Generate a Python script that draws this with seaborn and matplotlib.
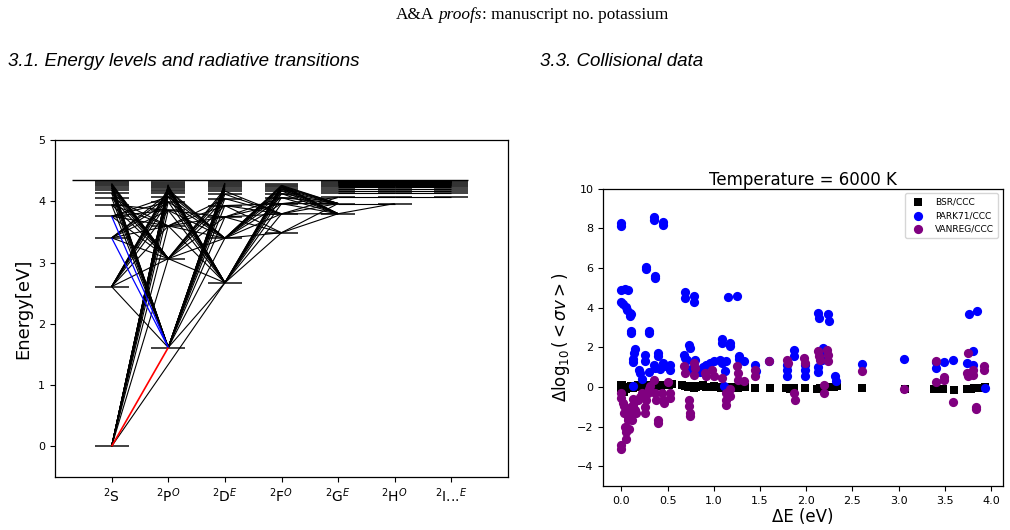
import matplotlib
matplotlib.use("Agg")
import matplotlib.pyplot as plt
from matplotlib.collections import LineCollection
import pandas as pd
import seaborn as sns

# ---------------- left panel: Grotrian diagram of K I ----------------
term_labels = ["$^2$S", "$^2$P$^O$", "$^2$D$^E$", "$^2$F$^O$", "$^2$G$^E$", "$^2$H$^O$", "$^2$I...$^E$"]
ion_limit = 4.341

S_levels = [0.000, 2.607, 3.403, 3.755, 3.944, 4.058, 4.132, 4.182, 4.217, 4.243,
            4.262, 4.277, 4.289, 4.298, 4.306, 4.312, 4.318, 4.322, 4.326]
P_levels = [1.613, 3.064, 3.598, 3.853, 3.991, 4.074, 4.128, 4.165, 4.192, 4.212, 4.227,
            4.240, 4.250, 4.259, 4.266, 4.272, 4.277, 4.282, 4.290, 4.298, 4.306, 4.313]
D_levels = [2.670, 3.397, 3.743, 3.930, 4.043, 4.116, 4.166, 4.201, 4.227, 4.247,
            4.262, 4.274, 4.284, 4.292, 4.299, 4.305, 4.310, 4.315, 4.320]
F_levels = [3.487, 3.795, 3.961, 4.061, 4.126, 4.171, 4.203, 4.227, 4.246, 4.260, 4.272, 4.281]
G_levels = [3.797, 3.963, 4.063, 4.128, 4.173, 4.205, 4.229, 4.247, 4.261, 4.273, 4.282, 4.290,
            4.297, 4.302, 4.307, 4.311, 4.315, 4.318, 4.321, 4.324, 4.326, 4.328, 4.330]
H_levels = [3.963, 4.063, 4.128, 4.173, 4.205, 4.229, 4.247, 4.261, 4.273, 4.282, 4.290,
            4.297, 4.302, 4.307, 4.311, 4.315, 4.318, 4.321, 4.324, 4.326, 4.328, 4.330]
I_levels = [4.063, 4.128, 4.173, 4.205, 4.229, 4.247, 4.261, 4.273, 4.282, 4.290,
            4.297, 4.302, 4.307, 4.311, 4.315, 4.318, 4.321, 4.324, 4.326, 4.328, 4.330]
all_levels = [S_levels, P_levels, D_levels, F_levels, G_levels, H_levels, I_levels]

# radiative transitions: (level index in lower column, level index in upper column)
sp_lines = [(0, 1), (0, 2), (0, 3), (0, 4), (0, 5), (0, 6), (0, 7), (0, 8), (0, 9), (0, 10),
            (0, 11), (0, 12), (0, 13), (0, 14), (0, 15),
            (1, 0), (1, 1), (1, 2), (1, 3), (1, 4), (1, 5), (1, 6), (1, 7), (1, 8), (1, 9),
            (2, 1), (2, 2), (2, 3), (2, 4), (2, 5), (2, 6),
            (3, 1), (3, 2), (3, 3), (3, 4), (3, 5),
            (4, 0), (4, 1), (4, 2), (4, 3), (5, 0), (5, 1), (5, 2), (6, 0), (6, 1),
            (7, 0), (7, 1), (8, 0), (8, 1), (9, 0), (9, 1), (10, 0), (10, 1),
            (11, 0), (11, 1), (12, 0), (12, 1)]
sp_red = [(0, 0)]
sp_blue = [(2, 0), (3, 0)]
sd_lines = [(0, 0)]
pd_lines = [(0, 0), (0, 1), (0, 2), (0, 3), (0, 4), (0, 5), (0, 6), (0, 7), (0, 8), (0, 9),
            (0, 10), (0, 11), (0, 12), (0, 13), (0, 14),
            (1, 0), (1, 1), (1, 2), (1, 3), (1, 4), (1, 5), (1, 6), (1, 7),
            (2, 0), (2, 1), (2, 2), (2, 3), (2, 4), (3, 0), (3, 1), (3, 2),
            (4, 0), (4, 1), (5, 0), (5, 1), (6, 0), (6, 1), (7, 0), (7, 1), (8, 0), (8, 1),
            (9, 0), (10, 0), (11, 0), (12, 0)]
df_lines = [(0, 0), (0, 1), (0, 2), (0, 3), (0, 4), (0, 5), (0, 6), (0, 7), (0, 8), (0, 9),
            (1, 0), (1, 1), (1, 2), (1, 3), (1, 4), (1, 5), (1, 6), (1, 7), (1, 8), (1, 9),
            (2, 0), (2, 1), (2, 2), (2, 3), (3, 0), (3, 1), (3, 2), (4, 1), (5, 1), (6, 1)]
fg_lines = [(0, 0), (0, 1), (1, 0), (1, 1), (1, 2), (2, 0), (2, 1), (2, 2), (3, 0), (3, 1),
            (4, 0), (4, 1), (5, 0), (5, 1), (6, 0), (6, 1), (7, 0), (7, 1), (8, 0), (8, 1),
            (9, 0), (9, 1)]
gh_lines = [(0, 0), (1, 0), (2, 1), (3, 2), (4, 3), (5, 4), (6, 5), (7, 6), (8, 7), (9, 8),
            (10, 9), (11, 10), (12, 11), (13, 12), (14, 13), (15, 14), (16, 15), (17, 16),
            (18, 17), (19, 18), (20, 19), (21, 20), (22, 21)]
hi_lines = [(1, 0), (2, 1), (3, 2), (4, 3), (5, 4), (6, 5), (7, 6), (8, 7), (9, 8), (10, 9),
            (11, 10), (12, 11), (13, 12), (14, 13), (15, 14), (16, 15), (17, 16), (18, 17),
            (19, 18), (20, 19), (21, 20)]

# ---------------- right panel: collisional rate comparison ----------------
bsr = [(0.00, 0.08), (0.00, -0.05), (0.01, 0.10), (0.03, -0.25), (0.05, -0.10), (0.07, 0.00),
       (0.10, 0.05), (0.12, -0.05), (0.15, 0.02), (0.18, 0.08), (0.20, 0.00), (0.23, 0.05),
       (0.26, 0.10), (0.29, 0.08), (0.32, 0.00), (0.35, 0.10), (0.38, 0.05), (0.40, 0.12),
       (0.43, 0.05), (0.46, 0.10), (0.49, 0.08), (0.52, 0.12), (0.55, 0.15), (0.66, 0.08),
       (0.69, 0.05), (0.72, 0.00), (0.75, 0.05), (0.78, -0.05), (0.81, 0.00), (0.84, 0.05),
       (0.88, 0.08), (0.92, 0.00), (0.96, -0.02), (1.00, 0.03), (1.04, 0.00), (1.08, -0.05),
       (1.12, 0.00), (1.16, -0.08), (1.20, -0.02), (1.23, 0.02), (1.26, -0.05), (1.30, 0.00),
       (1.34, 0.00), (1.45, -0.05), (1.61, -0.05), (1.78, -0.05), (1.82, -0.10), (1.87, -0.05),
       (1.99, -0.05), (2.12, -0.10), (2.15, -0.08), (2.18, -0.05), (2.22, -0.02), (2.26, 0.00),
       (2.30, 0.02), (2.33, 0.03), (2.60, -0.08), (3.07, -0.12), (3.38, -0.12), (3.42, -0.10),
       (3.48, -0.12), (3.60, -0.15), (3.74, -0.10), (3.78, -0.10), (3.82, -0.08), (3.86, -0.05),
       (3.90, -0.05), (3.93, -0.03)]
park71 = [(0.00, 8.25), (0.00, 8.10), (0.35, 8.55), (0.35, 8.40), (0.45, 8.30), (0.45, 8.15),
          (0.27, 6.07), (0.27, 5.95), (0.36, 5.60), (0.36, 5.50),
          (0.00, 4.90), (0.04, 4.95), (0.07, 4.90), (0.00, 4.30), (0.02, 4.20), (0.05, 4.05),
          (0.06, 3.90), (0.09, 3.75), (0.09, 3.60), (0.10, 3.70),
          (0.10, 2.80), (0.10, 2.70), (0.30, 2.80), (0.30, 2.70),
          (0.15, 1.90), (0.14, 1.70), (0.13, 1.40), (0.13, 1.25), (0.19, 0.85), (0.20, 0.70),
          (0.26, 1.60), (0.26, 1.30), (0.35, 1.10), (0.36, 0.95), (0.40, 1.70), (0.40, 1.55),
          (0.45, 1.20), (0.46, 1.05), (0.53, 1.10), (0.53, 0.85), (0.13, 0.03), (0.22, 0.40),
          (0.30, 0.75), (0.42, 0.90),
          (0.69, 4.80), (0.69, 4.50), (0.79, 4.60), (0.79, 4.30), (0.73, 2.10), (0.74, 1.95),
          (0.68, 1.60), (0.69, 1.45), (0.71, 1.37), (0.80, 1.35), (0.88, 1.00), (0.92, 1.10),
          (0.96, 1.20), (1.00, 1.30), (0.75, 0.90), (0.85, 0.75),
          (1.09, 2.40), (1.09, 2.20), (1.18, 2.20), (1.18, 2.05), (1.15, 4.55), (1.25, 4.60),
          (1.07, 1.35), (1.09, 1.20), (1.13, 1.30), (1.12, 0.80), (1.11, 0.05), (1.27, 1.55),
          (1.27, 1.40), (1.33, 1.30),
          (1.45, 1.10), (1.46, 0.80), (1.60, 1.30), (1.79, 1.12), (1.79, 0.87), (1.79, 0.53),
          (1.87, 1.88), (1.87, 1.58), (1.99, 1.12), (1.99, 0.87), (1.99, 0.57),
          (2.13, 3.75), (2.14, 3.47), (2.24, 3.68), (2.25, 3.32), (2.18, 1.97), (2.18, 1.80),
          (2.17, 1.38), (2.13, 1.00), (2.13, 0.75), (2.31, 0.54), (2.32, 0.29),
          (2.60, 1.15), (3.06, 1.41), (3.40, 1.24), (3.40, 0.96), (3.49, 1.24), (3.59, 1.34),
          (3.76, 3.69), (3.85, 3.84), (3.80, 1.83), (3.74, 1.19), (3.80, 1.12), (3.93, -0.05)]
vanreg = [(0.00, -2.95), (0.00, -3.12), (0.00, -0.30), (0.00, -0.55), (0.03, -0.97),
          (0.03, -1.30), (0.04, -2.00), (0.05, -2.30), (0.05, -2.65), (0.07, -1.65),
          (0.07, -1.50), (0.10, -1.00), (0.10, -1.30), (0.11, -1.65), (0.13, -0.90),
          (0.15, -1.15), (0.16, -1.30), (0.18, -0.65), (0.20, -0.50), (0.22, -0.30),
          (0.25, -1.00), (0.25, -1.30), (0.27, -0.65), (0.29, -0.30), (0.31, 0.03),
          (0.35, 0.37), (0.36, -0.30), (0.37, -0.65), (0.40, -1.65), (0.40, -1.80),
          (0.44, -0.30), (0.45, -0.65), (0.46, -0.80), (0.53, -0.30), (0.53, -0.55),
          (0.02, -0.80), (0.06, -1.20), (0.08, -2.10), (0.12, -0.60), (0.30, -0.10),
          (0.50, 0.25),
          (0.68, 1.04), (0.69, 0.70), (0.73, -0.64), (0.73, -0.97), (0.74, -1.30),
          (0.74, -1.48), (0.78, 1.20), (0.80, 0.96), (0.79, 0.62), (0.90, 0.70), (0.91, 0.54),
          (0.98, 0.87), (1.00, 0.54), (1.09, 0.45), (1.13, -0.30), (1.13, -0.64), (1.13, -0.90),
          (1.17, -0.13), (1.18, -0.47), (1.25, 1.04), (1.26, 0.70), (1.26, 0.37), (1.33, 0.28),
          (1.45, 0.87), (1.45, 0.54),
          (1.60, 1.30), (1.79, 1.38), (1.80, 1.20), (1.87, -0.30), (1.88, -0.65), (1.98, 1.46),
          (1.99, 1.20), (2.13, 1.80), (2.14, 1.54), (2.15, 1.38), (2.23, 1.88), (2.24, 1.63),
          (2.24, 1.32), (2.19, 0.11), (2.19, -0.30),
          (2.60, 0.79), (3.06, -0.10), (3.40, 1.29), (3.40, 0.23), (3.49, 0.50), (3.49, 0.37),
          (3.59, -0.78), (3.75, 1.71), (3.74, 0.70), (3.75, 0.53), (3.80, 0.87), (3.80, 0.62),
          (3.92, 1.04), (3.92, 0.87), (3.84, -1.00), (3.84, -1.10)]

sns.set_theme(style="ticks", rc={
    "axes.edgecolor": "black", "xtick.color": "black", "ytick.color": "black",
    "text.color": "black", "axes.labelcolor": "black", "axes.linewidth": 0.9,
    "xtick.major.size": 3.5, "ytick.major.size": 3.5,
    "xtick.major.width": 0.8, "ytick.major.width": 0.8,
    "xtick.major.pad": 3.5, "ytick.major.pad": 3.5,
})
plt.rcParams["font.family"] = ["DejaVu Sans"]

fig = plt.figure(figsize=(10.1, 5.3), dpi=100)
W, H = 1010, 530

# page header, pieced together so that "proofs" can be italic
renderer = fig.canvas.get_renderer()
xpos = 396
for txt, st, gap in [("A&A", "normal", 4), ("proofs", "italic", 0),
                     (": manuscript no. potassium", "normal", 0)]:
    t = fig.text(xpos / W, 1 - 15 / H, txt, family="Liberation Serif", style=st,
                 fontsize=12.4, va="center", ha="left")
    xpos = t.get_window_extent(renderer).x1 + gap

fig.text(8 / W, 1 - 62 / H, "3.1. Energy levels and radiative transitions",
         family="Liberation Sans", style="italic", fontsize=13.5, va="center")
fig.text(540 / W, 1 - 62 / H, "3.3. Collisional data",
         family="Liberation Sans", style="italic", fontsize=13.5, va="center")

# ---- left: energy level diagram
ax1 = fig.add_axes([55 / W, 1 - 477 / H, 453 / W, 337 / H])


def add_lines(ax, pairs, col_lo, col_hi, color="black", lw=0.8, z=2):
    lo, hi = all_levels[col_lo], all_levels[col_hi]
    segs = [[(col_lo, lo[i]), (col_hi, hi[j])] for i, j in pairs]
    ax.add_collection(LineCollection(segs, colors=color, linewidths=lw, zorder=z))


for col, levels in enumerate(all_levels):
    ax1.hlines(levels, col - 0.3, col + 0.3, color="0.2", lw=1.3, zorder=1)
ax1.hlines(ion_limit, -0.7, 6.3, color="black", lw=1.0)

add_lines(ax1, sp_lines, 0, 1)
add_lines(ax1, sd_lines, 0, 2)
add_lines(ax1, pd_lines, 1, 2)
add_lines(ax1, df_lines, 2, 3)
add_lines(ax1, fg_lines, 3, 4)
add_lines(ax1, gh_lines, 4, 5)
add_lines(ax1, hi_lines, 5, 6)
add_lines(ax1, sp_blue, 0, 1, color="blue", lw=0.9, z=3)
add_lines(ax1, sp_red, 0, 1, color="red", lw=1.2, z=3)

ax1.set_xlim(-1, 7)
ax1.set_ylim(-0.5, 5)
ax1.set_xticks(range(len(term_labels)))
ax1.set_xticklabels(term_labels)
ax1.set_yticks([0, 1, 2, 3, 4, 5])
ax1.tick_params(axis="x", labelsize=10)
ax1.tick_params(axis="y", labelsize=8)
ax1.set_ylabel("Energy[eV]", fontsize=13)

# ---- right: collisional data
ax2 = fig.add_axes([603.3 / W, 1 - 486 / H, 399.4 / W, 297.3 / H])
cols = ["dE", "dlog"]
sns.scatterplot(data=pd.DataFrame(bsr, columns=cols), x="dE", y="dlog", marker="s",
                color="black", s=36, linewidth=0, label="BSR/CCC", ax=ax2)
sns.scatterplot(data=pd.DataFrame(park71, columns=cols), x="dE", y="dlog", marker="o",
                color="blue", s=44, linewidth=0, label="PARK71/CCC", ax=ax2)
sns.scatterplot(data=pd.DataFrame(vanreg, columns=cols), x="dE", y="dlog", marker="o",
                color="purple", s=44, linewidth=0, label="VANREG/CCC", ax=ax2)

ax2.set_ylim(-5, 10)
ax2.set_yticks([-4, -2, 0, 2, 4, 6, 8, 10])
ax2.set_xticks([0.0, 0.5, 1.0, 1.5, 2.0, 2.5, 3.0, 3.5, 4.0])
ax2.tick_params(labelsize=8)
ax2.set_title("Temperature = 6000 K", fontsize=12, pad=3)
ax2.set_xlabel("ΔE (eV)", fontsize=12, labelpad=2)
ax2.set_ylabel(r"$\Delta\log_{10}( < \sigma v > )$", fontsize=12)
ax2.legend(loc="upper right", fontsize=6.5, frameon=True, fancybox=True,
           edgecolor="0.8", framealpha=0.8, borderpad=0.5, labelspacing=0.5)

fig.savefig("out.png", dpi=100)
